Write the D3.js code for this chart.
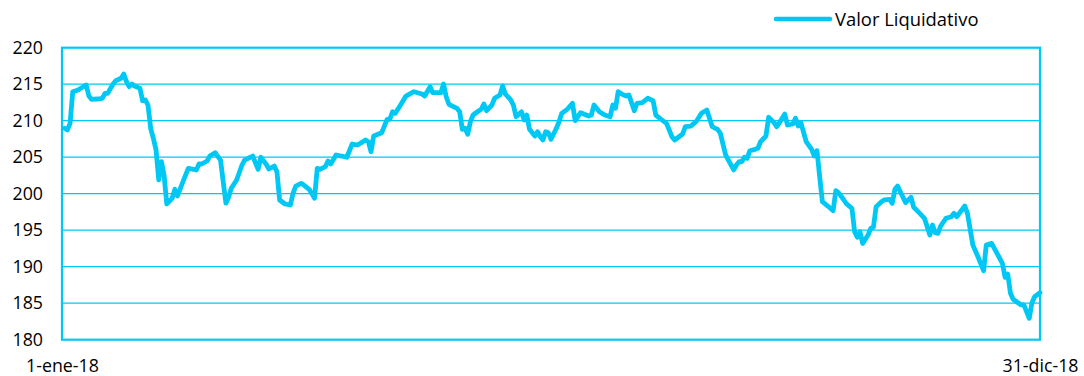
<!DOCTYPE html>
<html><head><meta charset="utf-8">
<script src="https://cdn.jsdelivr.net/npm/d3@7"></script>
<style>
html,body{margin:0;padding:0;background:#fff;}
svg text{font-family:"Open Sans",sans-serif;fill:#000;}
</style></head>
<body><svg id="c" width="1084" height="376"></svg>
<script>
// Day of year (0 = 1 Jan 2018)
const days = [1,2,3,4,6,7,9,10,11,13,15,16,17,19,20,22,23,24,25,26,27,29,30,31,32,33,34,35,36,37,38,39,41,42,43,45,47,49,50,51,52,54,55,57,59,61,62,63,65,67,68,71,73,74,76,77,79,80,81,83,85,86,87,89,90,92,94,95,96,98,99,100,102,104,106,108,110,113,114,115,116,119,121,122,123,124,126,128,131,134,135,137,138,141,142,143,144,147,148,149,150,151,152,153,155,156,157,158,160,161,163,164,165,167,168,169,171,172,173,174,176,177,178,179,180,181,182,184,185,186,188,190,191,193,196,197,198,200,202,204,205,206,207,209,210,211,213,214,216,218,220,221,223,225,227,228,231,232,234,236,238,240,242,244,245,247,250,251,252,253,254,255,256,258,259,260,262,263,265,266,267,269,270,272,273,274,275,277,279,280,281,282,283,285,287,288,289,291,292,294,295,296,297,298,300,301,302,303,305,306,308,309,310,311,312,314,316,317,319,321,323,324,325,326,327,329,331,332,333,336,337,339,341,343,344,346,348,350,351,352,353,354,357,358,360,361,362,364];
const values = [208.96,208.73,209.64,213.97,214.2,214.44,214.89,213.38,212.93,212.97,213.07,213.75,213.75,215.03,215.48,215.81,216.4,215.34,214.66,215.03,214.75,214.44,212.74,212.84,212.15,208.96,207.59,206.0,201.9,204.4,202.5,198.6,199.37,200.6,199.69,201.64,203.48,203.34,203.25,204.07,204.07,204.48,205.16,205.62,204.6,198.7,199.5,200.74,201.88,203.93,204.62,205.16,203.34,204.99,204.03,203.38,203.79,203.01,199.14,198.59,198.45,200.05,201.05,201.42,201.19,200.6,199.37,203.48,203.34,203.7,204.48,204.07,205.3,205.16,204.99,206.81,206.67,207.36,207.12,205.75,207.9,208.36,210.19,210.19,211.23,211.01,212.15,213.38,213.97,213.66,213.38,214.66,213.84,213.84,215.03,213.29,212.25,211.7,211.23,208.82,208.96,208.14,209.86,210.78,211.33,211.56,212.29,211.37,212.15,213.07,213.52,214.75,213.66,212.84,212.15,210.55,211.23,210.1,210.78,208.82,207.9,208.49,207.81,207.36,208.49,208.36,207.45,208.96,209.86,211.01,211.56,212.38,210.0,211.1,210.64,210.78,212.15,211.23,210.78,210.55,212.15,211.7,213.97,213.52,213.38,213.52,211.37,212.38,212.47,213.07,212.74,210.78,210.19,209.64,207.81,207.36,208.18,209.18,209.27,209.86,211.01,211.47,209.18,208.82,208.3,205.3,203.25,203.93,204.38,204.38,204.99,204.85,205.89,206.08,206.22,207.12,207.9,210.47,209.73,209.18,209.73,210.92,209.41,209.55,210.33,209.27,209.73,207.12,206.08,205.16,205.89,202.33,198.9,198.31,197.67,200.41,200.14,199.14,198.59,198.0,194.79,194.03,194.79,193.2,194.34,195.26,195.4,198.22,198.9,199.14,199.23,198.68,200.6,201.05,200.27,198.77,199.51,198.14,197.4,196.63,194.34,195.71,194.66,194.57,195.57,196.63,196.85,197.31,196.85,198.31,197.31,192.97,191.29,189.45,192.97,193.2,191.83,190.46,188.55,189.0,186.36,185.54,184.76,184.76,182.93,185.07,185.89,186.44];
const yTicks = [180,185,190,195,200,205,210,215,220];
const xTickLabels = ["1-ene-18","31-dic-18"];
const seriesName = "Valor Liquidativo";

const color = "#00C8F5";
const svg = d3.select("#c");
const L = 62, R = 1040, T = 47.7, B = 339.7;
const start = new Date(2018,0,1), end = new Date(2018,11,31);
const x = d3.scaleTime().domain([start,end]).range([L,R]);
const y = d3.scaleLinear().domain([180,220]).range([B,T]);
const data = days.map((d,i)=>({date:new Date(2018,0,1+d), v:values[i]}));

// gridlines
svg.append("g").selectAll("line").data(yTicks.slice(1,-1)).join("line")
  .attr("x1",L).attr("x2",R).attr("y1",d=>y(d)).attr("y2",d=>y(d))
  .attr("stroke",color).attr("stroke-width",1.2);

// plot border
svg.append("rect").attr("x",L).attr("y",T).attr("width",R-L).attr("height",B-T)
  .attr("fill","none").attr("stroke",color).attr("stroke-width",2.2);

// y axis labels
const ya = svg.append("g").attr("transform",`translate(${L},0)`)
  .call(d3.axisLeft(y).tickValues(yTicks).tickSize(0).tickPadding(19));
ya.select(".domain").remove();
ya.selectAll("text").style("font-size","17.8px").style("font-family","'Open Sans',sans-serif").attr("fill","#000");

// x axis labels
const xa = svg.append("g").attr("transform",`translate(0,${B})`)
  .call(d3.axisBottom(x).tickValues([start,end]).tickFormat((d,i)=>xTickLabels[i]).tickSize(0).tickPadding(20));
xa.select(".domain").remove();
xa.selectAll("text").style("font-size","17.8px").style("font-family","'Open Sans',sans-serif").attr("fill","#000");

// line
svg.append("path").datum(data)
  .attr("d", d3.line().x(d=>x(d.date)).y(d=>y(d.v)))
  .attr("fill","none").attr("stroke",color).attr("stroke-width",4.8)
  .attr("stroke-linejoin","round").attr("stroke-linecap","round");

// legend
svg.append("line").attr("x1",776).attr("x2",830).attr("y1",19).attr("y2",19)
  .attr("stroke",color).attr("stroke-width",4.5).attr("stroke-linecap","round");
svg.append("text").attr("x",835).attr("y",25.5).style("font-size","18.4px").text(seriesName);
</script></body></html>
